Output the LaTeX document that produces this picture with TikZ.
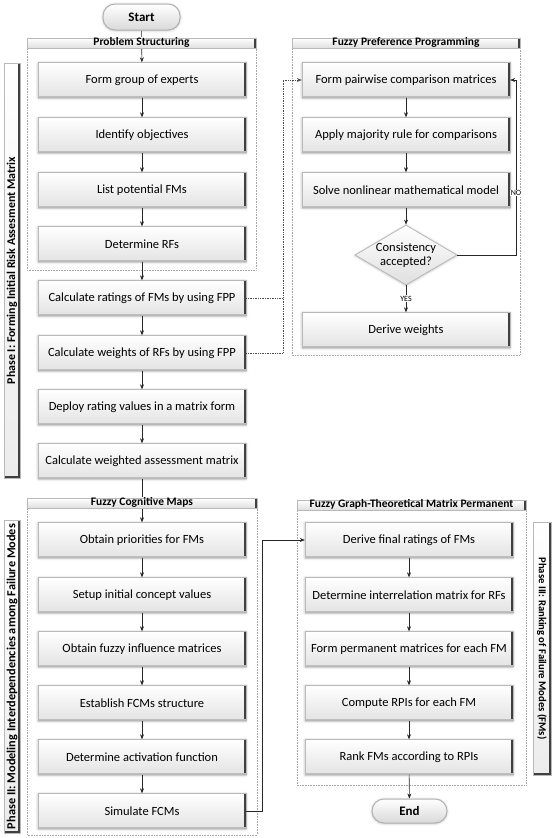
\documentclass[tikz,border=0pt]{standalone}
\usepackage{fontspec}
\setmainfont{Carlito}
\usetikzlibrary{shapes.geometric,arrows.meta,shadows.blur,backgrounds}
\begin{document}
\begin{tikzpicture}[x=1pt,y=-1pt,
  softshadow/.style={blur shadow={shadow blur steps=4, shadow xshift=0pt, shadow yshift=-0.5pt, shadow opacity=30, shadow blur radius=2.5pt}},
  stepbox/.style={rectangle, minimum width=208pt, minimum height=35pt, inner sep=1pt,
    top color=white, bottom color=gray!22, draw=gray!55, softshadow,
    font=\fontsize{12.5}{14}\selectfont,
    path picture={
      \draw[gray!50!black, line width=2.4pt] ([xshift=-1.2pt]path picture bounding box.north east) -- ([xshift=-1.2pt]path picture bounding box.south east);
      \draw[gray!50, line width=1.6pt] ([yshift=0.8pt]path picture bounding box.south west) -- ([yshift=0.8pt]path picture bounding box.south east);}},
  headbar/.style={rectangle, minimum height=10pt, text height=7.5pt, text depth=2pt, inner sep=0.3pt,
    top color=white, bottom color=gray!25, draw=gray!55,
    font=\bfseries\fontsize{11.5}{12}\selectfont,
    path picture={
      \draw[gray!50!black, line width=2pt] ([xshift=-1pt]path picture bounding box.north east) -- ([xshift=-1pt]path picture bounding box.south east);
      \draw[gray!50!black, line width=1pt] ([xshift=0.5pt]path picture bounding box.north west) -- ([xshift=0.5pt]path picture bounding box.south west);}},
  phasebox/.style={rectangle, minimum width=16pt, inner sep=0pt,
    top color=white, bottom color=gray!15, draw=gray!55,
    path picture={
      \draw[gray!50!black, line width=2pt] ([xshift=-1pt]path picture bounding box.north east) -- ([xshift=-1pt]path picture bounding box.south east);
      \draw[gray!50!black, line width=1.6pt] ([yshift=0.8pt]path picture bounding box.south west) -- ([yshift=0.8pt]path picture bounding box.south east);}},
  phasetext/.style={inner sep=0pt, font=\bfseries\fontsize{11.8}{12}\selectfont},
  pill/.style={rectangle, rounded corners=12pt, minimum width=77pt, minimum height=26pt, inner sep=0pt,
    top color=white, bottom color=gray!30, draw=gray!60, line width=1pt, softshadow,
    font=\bfseries\fontsize{13}{14}\selectfont},
  decision/.style={diamond, aspect=1.7, minimum width=102pt, minimum height=60pt, inner sep=0pt,
    top color=white, bottom color=gray!25, draw=gray!55, line width=0.8pt, softshadow, align=center,
    font=\fontsize{12.5}{13.5}\selectfont},
  container/.style={draw=gray!70, densely dotted, line width=0.6pt},
  arr/.style={draw=black!85, line width=0.6pt, -{Stealth[length=5pt,width=4pt]}},
  dotarr/.style={draw=black!70, densely dotted, line width=0.7pt},
  small/.style={fill=white, inner sep=0.8pt, font=\fontsize{8}{9}\selectfont}
]
\useasboundingbox (0,0) rectangle (553,838);

% containers
\draw[container] (27,38) rectangle (256,270);
\draw[container] (292,38) rectangle (520,355);
\draw[container] (27,498) rectangle (257,835);
\draw[container] (297,500) rectangle (526,785);

% headers
\node[headbar, minimum width=229pt] (hps) at (141.5,43) {Problem Structuring};
\node[headbar, minimum width=228pt] (hfpp) at (406,43) {Fuzzy Preference Programming};
\node[headbar, minimum width=230pt] (hfcm) at (142,503) {Fuzzy Cognitive Maps};
\node[headbar, minimum width=229pt] (hfg) at (411.5,505) {Fuzzy Graph-Theoretical Matrix Permanent};

% phase labels
\node[phasebox, minimum height=415pt] (ph1) at (12,270.5) {};
\node[phasetext, rotate=90] (ph1t) at (ph1) {\resizebox{227pt}{!}{Phase I: Forming Initial Risk Assesment Matrix}};
\node[phasebox, minimum height=313pt] (ph2) at (12,676.5) {};
\node[phasetext, rotate=90] (ph2t) at (ph2) {\resizebox{305pt}{!}{Phase II: Modeling Interdependencies among Failure Modes}};
\node[phasebox, minimum width=18pt, minimum height=253pt] (ph3) at (542,648.5) {};
\node[phasetext, rotate=-90] (ph3t) at (ph3) {\resizebox{182pt}{!}{Phase III: Ranking of Failure Modes (FMs)}};

% start / end
\node[pill] (start) at (141.5,17) {Start};
\node[pill, minimum width=75pt, minimum height=24pt] (end) at (409.5,811) {End};

% phase I column
\node[stepbox] (b1) at (142,80) {Form group of experts};
\node[stepbox] (b2) at (142,135) {Identify objectives};
\node[stepbox] (b3) at (142,190) {List potential FMs};
\node[stepbox] (b4) at (142,244) {Determine RFs};
\node[stepbox] (b5) at (142,298) {Calculate ratings of FMs by using FPP};
\node[stepbox] (b6) at (142,353) {Calculate weights of RFs by using FPP};
\node[stepbox] (b7) at (142,407) {Deploy rating values in a matrix form};
\node[stepbox] (b8) at (142,461) {Calculate weighted assessment matrix};

% FPP column
\node[stepbox] (p1) at (406,80) {Form pairwise comparison matrices};
\node[stepbox] (p2) at (406,135) {Apply majority rule for comparisons};
\node[stepbox] (p3) at (406,190) {Solve nonlinear mathematical model};
\node[decision] (dia) at (406,255) {Consistency\\accepted?};
\node[stepbox] (p4) at (406,330) {Derive weights};

% FCM column
\node[stepbox] (c1) at (142,540) {Obtain priorities for FMs};
\node[stepbox] (c2) at (142,595) {Setup initial concept values};
\node[stepbox] (c3) at (142,649) {Obtain fuzzy influence matrices};
\node[stepbox] (c4) at (142,703) {Establish FCMs structure};
\node[stepbox] (c5) at (142,757) {Determine activation function};
\node[stepbox] (c6) at (142,811) {Simulate FCMs};

% FGTMP column
\node[stepbox] (d1) at (409,540) {Derive final ratings of FMs};
\node[stepbox] (d2) at (409,595) {Determine interrelation matrix for RFs};
\node[stepbox] (d3) at (409,649) {Form permanent matrices for each FM};
\node[stepbox] (d4) at (409,703) {Compute RPIs for each FM};
\node[stepbox] (d5) at (409,757) {Rank FMs according to RPIs};

\coordinate (dj) at (283,80);
\coordinate (noc) at (516,80);
\coordinate (sj) at (262,540);

\begin{scope}[on background layer]
\draw[arr] (start) -- (b1);
\draw[arr] (b8) -- (c1);
\end{scope}
\draw[arr] (b1) -- (b2);
\draw[arr] (b2) -- (b3);
\draw[arr] (b3) -- (b4);
\draw[arr] (b4) -- (b5);
\draw[arr] (b5) -- (b6);
\draw[arr] (b6) -- (b7);
\draw[arr] (b7) -- (b8);
\draw[arr] (c1) -- (c2);
\draw[arr] (c2) -- (c3);
\draw[arr] (c3) -- (c4);
\draw[arr] (c4) -- (c5);
\draw[arr] (c5) -- (c6);
\draw[arr] (p1) -- (p2);
\draw[arr] (p2) -- (p3);
\draw[arr] (p3) -- (dia);
\draw[arr] (dia) -- node[small, pos=0.5] {YES} (p4);
\draw[arr] (dia.east) -- (dia.east -| noc) -- node[small, pos=0.354] {NO} (noc) -- (p1.east);
\draw[dotarr] (b5.east) -- (b5.east -| dj) -- (dj);
\draw[dotarr] (b6.east) -- (b6.east -| dj) -- (b5.east -| dj);
\draw[dotarr, -{Stealth[length=5pt,width=4pt]}] (dj) -- (p1.west);
\draw[arr] (c6.east) -- (c6.east -| sj) -- (sj) -- (d1.west);
\draw[arr] (d1) -- (d2);
\draw[arr] (d2) -- (d3);
\draw[arr] (d3) -- (d4);
\draw[arr] (d4) -- (d5);
\draw[arr] (d5) -- (end);
\end{tikzpicture}
\end{document}
